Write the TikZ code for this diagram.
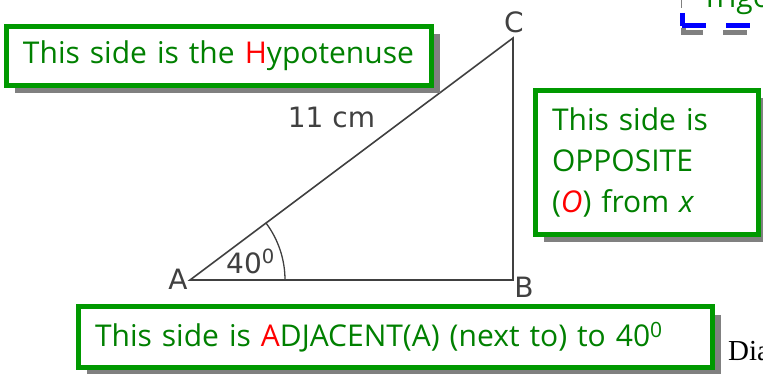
\documentclass[tikz,border=0pt]{standalone}
\usepackage{fontspec}
\setmainfont{Open Sans}
\newfontfamily\labelfont{DejaVu Sans}
\newfontfamily\seriffont{Liberation Serif}
\usepackage{tikz}
\usetikzlibrary{positioning,angles,shadows}
\definecolor{boxgreen}{HTML}{009900}
\definecolor{textgreen}{HTML}{008000}
\definecolor{linegray}{HTML}{404040}
\definecolor{shadegray}{HTML}{808080}

\begin{document}
\begin{tikzpicture}[x=1pt,y=-1pt,
    sidebox/.style={draw=boxgreen,line width=5pt,fill=white,text=textgreen,
      font=\fontsize{30}{41}\selectfont,align=left,inner xsep=16.5pt,inner ysep=0pt,
      drop shadow={shadow xshift=8pt,shadow yshift=-8pt,fill=shadegray,opacity=1}},
    vertex/.style={font=\labelfont\fontsize{28}{30}\selectfont,text=linegray,inner sep=0pt}]
    \useasboundingbox (0,0) rectangle (763,374);
    \clip (0,0) rectangle (763,374);
    % triangle
    \coordinate (A) at (190,280);
    \coordinate (B) at (513,280);
    \coordinate (C) at (513,38);
    \draw[linegray,line width=1.6pt] (A) -- (B) -- (C) -- cycle;
    \pic[draw=linegray,line width=1.3pt,angle radius=95pt] {angle=B--A--C};
    \node[vertex,anchor=base] (lA) at (178,289) {A};
    \node[vertex,anchor=base] (lB) at (524,297) {B};
    \node[vertex,anchor=base] (lC) at (514,33) {C};
    \node[vertex,anchor=base] (len) at (331.5,128) {11 cm};
    \node[vertex,anchor=base west] (ang) at (226,273) {40\textsuperscript{0}};
    % boxes
    \node[sidebox,text width=392pt,minimum height=59pt] (hyp) at (219,56) {This side is the \textcolor{red}{H}ypotenuse};
    \node[sidebox,text width=190pt,minimum height=144pt] (opp) at (647,162.5) {This side is\\OPPOSITE\\(\textcolor{red}{\textit{O}}) from \textit{x}};
    \node[sidebox,text width=601pt,minimum height=61pt] (adj) at (395.5,337) {This side is \textcolor{red}{A}DJACENT(A) (next to) to 40\textsuperscript{0}};
    % title, cut by the edge
    \draw[shadegray,line width=5pt,dash pattern=on 24pt off 20pt] (683.5,-60) -- (683.5,32.5) -- (800,32.5);
    \node[draw=blue,line width=5pt,dash pattern=on 24pt off 20pt,fill=white,text=textgreen,
      font=\fontsize{30}{36}\selectfont,anchor=south west,inner xsep=19.5pt,inner ysep=11.5pt,
      text depth=7pt] (title) at (679.5,28.5) {Trigo};
    \node[font=\seriffont\fontsize{29}{30}\selectfont,anchor=base west,inner sep=0pt] (dia) at (728,360) {Dia};
\end{tikzpicture}
\end{document}
